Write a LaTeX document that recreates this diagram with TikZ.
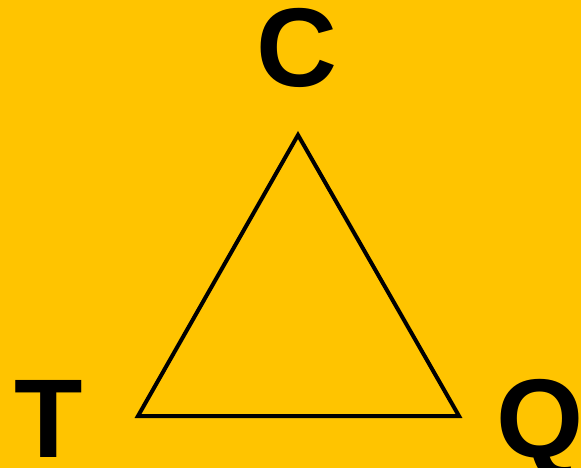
\documentclass[tikz,border=0pt]{standalone}
\usepackage{fontspec}
\setmainfont{Liberation Sans}
\usepackage{xcolor}
\definecolor{amber}{HTML}{FFC400}
\tikzset{
  vertexlabel/.style={inner sep=0pt,anchor=base,font=\fontsize{112}{112}\selectfont\bfseries},
  edge/.style={draw=black,line width=4pt,line join=miter}
}

\begin{document}
\begin{tikzpicture}[x=1pt,y=-1pt]
      \fill [amber] (0,0) rectangle (581,468);
      \useasboundingbox (0,0) rectangle (581,468);
      \coordinate (c) at (298,135);
      \coordinate (t) at (138,416);
      \coordinate (q) at (459,416);
      \node [vertexlabel] (C) at (297,87) {C};
      \node [vertexlabel] (T) at (49,457) {T};
      \node [vertexlabel] (Q) at (540,457) {Q};
      \draw [edge] (c) -- (t) -- (q) -- cycle;
    \end{tikzpicture}
\end{document}
